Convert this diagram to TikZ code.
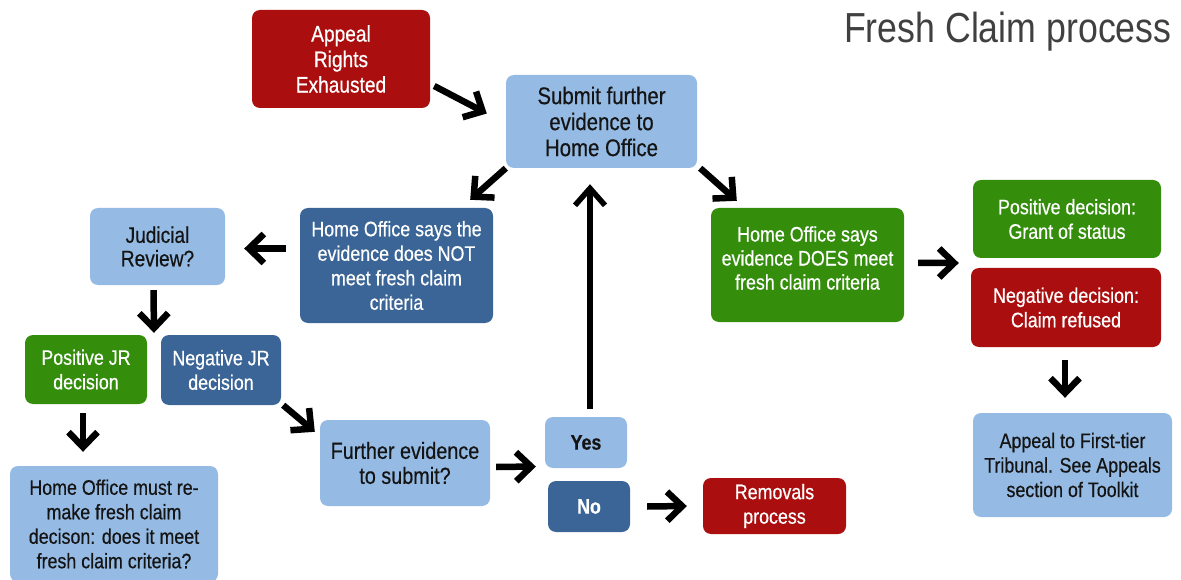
\documentclass[tikz,border=0pt]{standalone}
\usepackage{fontspec}
\setmainfont{Liberation Sans}[FakeStretch=0.85]
\newfontfamily\boxfont{Liberation Sans}[FakeStretch=0.85, FakeBold=0.5]
\usetikzlibrary{arrows.meta,calc}
\definecolor{bredC}{RGB}{170,14,14}
\definecolor{bgreenC}{RGB}{52,142,12}
\definecolor{bdarkC}{RGB}{58,101,150}
\definecolor{blightC}{RGB}{149,187,228}
\definecolor{textdark}{RGB}{20,20,20}
\definecolor{titlegray}{RGB}{64,64,64}
\tikzset{
  box/.style={rectangle, rounded corners=8pt, align=center, inner sep=2pt,
    font=\boxfont\fontsize{21}{24.5}\selectfont},
  bred/.style={box, fill=bredC, text=white},
  bgreen/.style={box, fill=bgreenC, text=white},
  bdark/.style={box, fill=bdarkC, text=white},
  blight/.style={box, fill=blightC, text=textdark},
  arr/.style={line width=6.5pt, -{Straight Barb[length=15pt,width=29pt]}},
  longarr/.style={line width=5.5pt, -{Straight Barb[length=17pt,width=30pt]}}
}
\begin{document}
\begin{tikzpicture}[x=1pt,y=-1pt]
\useasboundingbox (0,0) rectangle (1181,580);
\node[anchor=east, text=titlegray, font=\fontsize{42}{48}\selectfont] (title) at (1175,32) {Fresh Claim process};

\node[bred, minimum width=178pt, minimum height=98pt, font=\boxfont\fontsize{22.5}{25.5}\selectfont] (appeal) at (341,59) {Appeal\\Rights\\Exhausted};
\node[blight, minimum width=191pt, minimum height=93pt, font=\boxfont\fontsize{24}{26}\selectfont] (submit) at (601.5,121.5) {Submit further\\evidence to\\Home Office};
\node[bdark, minimum width=193pt, minimum height=115pt] (notmeet) at (396.5,265.5) {Home Office says the\\evidence does NOT\\meet fresh claim\\criteria};
\node[blight, minimum width=135pt, minimum height=77pt, font=\boxfont\fontsize{22.5}{23.5}\selectfont] (jr) at (157.5,246.5) {Judicial\\Review?};
\node[bgreen, minimum width=193pt, minimum height=114pt] (does) at (807.5,265) {};
\node[text=white, align=center, font=\boxfont\fontsize{21}{24}\selectfont] (doestext) at (807.5,258) {Home Office says\\evidence DOES meet\\fresh claim criteria};
\node[bgreen, minimum width=188pt, minimum height=78pt] (posdec) at (1067,219) {Positive decision:\\Grant of status};
\node[bred, minimum width=190pt, minimum height=79pt] (negdec) at (1066,307.5) {Negative decision:\\Claim refused};
\node[blight, minimum width=199pt, minimum height=104pt] (appealft) at (1072.5,465) {Appeal to First-tier\\Tribunal. See Appeals\\section of Toolkit};
\node[bgreen, minimum width=122pt, minimum height=69pt] (posjr) at (86,369.5) {Positive JR\\decision};
\node[bdark, minimum width=120pt, minimum height=70pt] (negjr) at (221,370) {Negative JR\\decision};
\node[blight, minimum width=208pt, minimum height=116pt] (remake) at (114,524) {Home Office must re-\\make fresh claim\\decison: does it meet\\fresh claim criteria?};
\node[blight, minimum width=170pt, minimum height=86pt, font=\boxfont\fontsize{23.3}{25}\selectfont] (further) at (405,463) {Further evidence\\to submit?};
\node[blight, minimum width=82pt, minimum height=51pt] (yes) at (586,442.5) {\bfseries Yes};
\node[bdark, minimum width=82pt, minimum height=51pt] (no) at (589,506.5) {\bfseries No};
\node[bred, minimum width=143pt, minimum height=56pt] (removals) at (774.5,506) {Removals\\process};

\draw[arr] ($(appeal.east)+(4,27)$) -- ($(submit.west)+(-19,-8)$);
\draw[arr] ($(submit.south west)+(0,0)$) -- ($(notmeet.north east)+(-23,-8)$);
\draw[arr] ($(submit.south east)+(3,0)$) -- ($(does.north west)+(26,-7)$);
\draw[arr] ($(notmeet.west)+(-14,-17)$) -- ($(jr.east)+(19,2)$);
\draw[arr] ($(jr.south)+(-4,5)$) -- ($(posjr.north east)!.5!(negjr.north west)+(0,-2)$);
\draw[arr] ($(does.east)+(14,-2)$) -- ($(posdec.south west)!.5!(negdec.north west)+(-13,0)$);
\draw[arr] ($(negdec.south)+(-1,13)$) -- ($(appealft.north)+(-7.5,-15)$);
\draw[arr] ($(posjr.south)+(-3,9)$) -- ($(remake.north)+(-31,-14)$);
\draw[arr] ($(negjr.south east)+(2,0)$) -- ($(further.north west)+(-5,12)$);
\draw[arr] ($(further.east)+(6,4)$) -- ($(yes.west)+(-9,24)$);
\draw[arr] ($(no.east)+(17,0)$) -- ($(removals.west)+(-16,0)$);
\draw[longarr] ($(yes.north)+(4,-8)$) -- ($(submit.south)+(-11.5,16)$);
\end{tikzpicture}
\end{document}
